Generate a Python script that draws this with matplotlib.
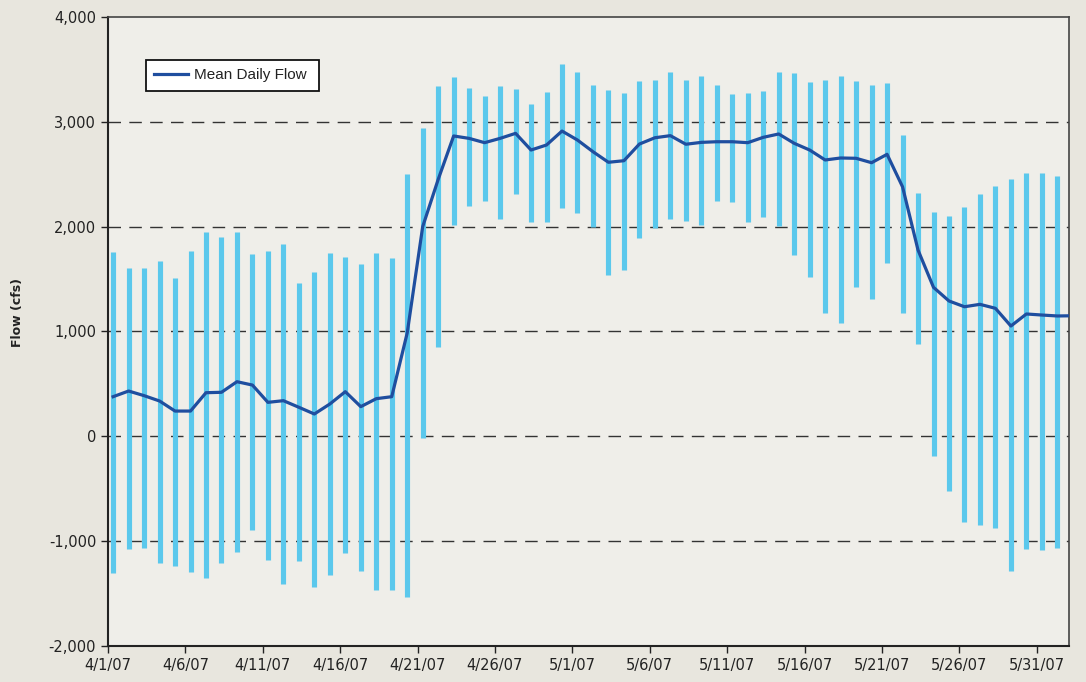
import numpy as np
import pandas as pd
import matplotlib
matplotlib.use("Agg")
import matplotlib.pyplot as plt
from matplotlib.ticker import FuncFormatter, FixedLocator
import matplotlib.dates as mdates

# daily readings, 4/1/07 - 6/2/07 (last day only has the mean, it runs off the axis)
dates = pd.date_range("2007-04-01 08:00", periods=63, freq="D")

flow_max = [1761, 1602, 1602, 1672, 1513, 1771, 1952, 1901, 1952, 1739,
            1771, 1831, 1462, 1564, 1749, 1710, 1644, 1749, 1704, 2502,
            2944, 3342, 3431, 3323, 3249, 3342, 3310, 3170, 3281, 3551,
            3475, 3351, 3303, 3272, 3389, 3402, 3475, 3399, 3440, 3351,
            3262, 3272, 3294, 3475, 3463, 3380, 3399, 3440, 3389, 3351,
            3367, 2877, 2321, 2143, 2101, 2190, 2311, 2391, 2452, 2509,
            2509, 2483, np.nan]

flow_min = [-1301, -1072, -1063, -1212, -1234, -1292, -1352, -1212, -1101, -891,
            -1180, -1412, -1193, -1435, -1320, -1110, -1282, -1463, -1463, -1530,
            -20, 855, 2016, 2197, 2242, 2070, 2308, 2041, 2047, 2181,
            2133, 1999, 1539, 1590, 1889, 1987, 2076, 2057, 2016, 2248,
            2232, 2047, 2089, 2009, 1727, 1523, 1173, 1084, 1421, 1313,
            1650, 1173, 880, -191, -519, -820, -849, -872, -1288, -1072,
            -1085, -1063, np.nan]

flow_mean = [378, 432, 388, 337, 241, 241, 416, 420, 521, 489,
             324, 340, 277, 213, 308, 426, 283, 359, 378, 986,
             2000, 2450, 2865, 2842, 2801, 2842, 2890, 2731, 2779, 2912,
             2826, 2715, 2614, 2629, 2788, 2848, 2868, 2786, 2804, 2810,
             2810, 2801, 2852, 2884, 2795, 2731, 2636, 2655, 2652, 2610,
             2690, 2380, 1777, 1421, 1291, 1236, 1259, 1221, 1052, 1167,
             1157, 1148, 1150]

tick_dates = pd.date_range("2007-04-01", "2007-05-31", freq="5D")

fig = plt.figure(figsize=(10.86, 6.82), dpi=100)
fig.patch.set_facecolor("#e8e6de")
ax = fig.add_axes([0.0994, 0.0528, 0.8849, 0.9223])
ax.set_facecolor("#efeee9")

# dashed gridlines
for v in [-1000, 0, 1000, 2000, 3000]:
    ax.axhline(v, color="#333333", lw=1, dashes=(9, 6), zorder=1)

ax.vlines(dates, flow_min, flow_max, color="#5bc8ec", lw=3.7, zorder=2)
ax.plot(dates, flow_mean, color="#1f4e9f", lw=2.3, zorder=3, label="Mean Daily Flow ")

ax.set_ylim(-2000, 4000)
ax.set_xlim(pd.Timestamp("2007-04-01"), pd.Timestamp("2007-06-02 02:00"))
ax.yaxis.set_major_locator(FixedLocator(range(-2000, 4001, 1000)))
ax.yaxis.set_major_formatter(FuncFormatter(lambda v, p: f"{v:,.0f}"))
ax.xaxis.set_major_locator(FixedLocator(mdates.date2num(tick_dates)))
ax.xaxis.set_major_formatter(FuncFormatter(
    lambda v, p: (lambda d: f"{d.month}/{d.day}/{d:%y}")(mdates.num2date(v))))

ax.tick_params(axis="both", direction="out", length=5, width=1, color="#222222",
               labelsize=10.5, labelcolor="#222222")
ax.tick_params(axis="x", pad=4)
for s in ["left", "bottom"]:
    ax.spines[s].set_linewidth(1.5)
    ax.spines[s].set_color("#222222")
for s in ["top", "right"]:
    ax.spines[s].set_linewidth(1.2)
    ax.spines[s].set_color("#444444")

ax.set_ylabel("Flow (cfs)", fontsize=9, fontweight="bold", color="#222222")
ax.yaxis.set_label_coords(-0.087, 0.53)

leg = ax.legend(loc="upper left", bbox_to_anchor=(0.0395, 0.932), borderaxespad=0,
                fancybox=False, framealpha=1, edgecolor="#111111",
                prop={"family": "Liberation Sans", "size": 11},
                handlelength=2.2, borderpad=0.55, handletextpad=0.4)
leg.get_frame().set_linewidth(1.3)
leg.get_frame().set_facecolor("white")
for t in leg.get_texts():
    t.set_color("#222222")
leg.set_zorder(5)

fig.savefig("out.png", dpi=100, facecolor=fig.get_facecolor())
